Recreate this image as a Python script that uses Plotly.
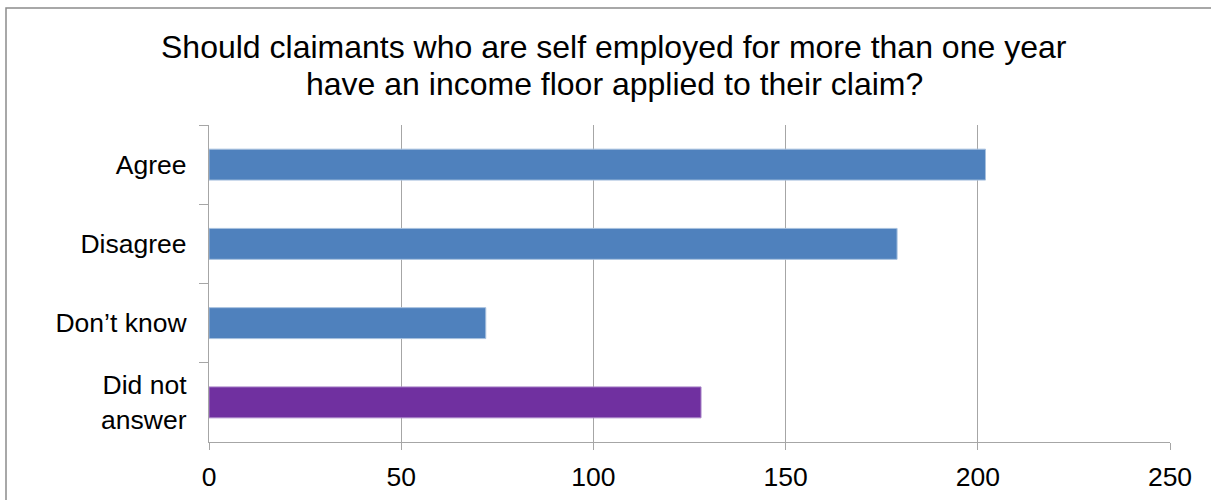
import plotly.graph_objects as go

# Survey responses
categories = ["Agree", "Disagree", "Don\u2019t know", "Did not<br>answer"]
responses = [202, 179, 72, 128]

# Title lines
title_lines = [
    "Should claimants who are self employed for more than one year",
    "have an income floor applied to their claim?",
]

# Bar fill per category (last one highlighted)
BLUE = "#4F81BD"
PURPLE = "#7030A0"
bar_colors = [BLUE, BLUE, BLUE, PURPLE]
edge_colors = ["#A7C0DE", "#A7C0DE", "#A7C0DE", "#A985C8"]

x_ticks = [0, 50, 100, 150, 200, 250]

FONT = "Liberation Sans, Arial, sans-serif"
GRID = "#A6A6A6"

fig = go.Figure(
    go.Bar(
        x=responses,
        y=categories,
        orientation="h",
        marker=dict(color=bar_colors, line=dict(color=edge_colors, width=1)),
        hoverinfo="x+y",
    )
)

# Title drawn as two centred lines
title_y = [47, 84]
annotations = [
    dict(
        text=line,
        xref="paper",
        yref="paper",
        x=(614 - 209) / 961,
        y=(442 - yc) / 317,
        xanchor="center",
        yanchor="middle",
        showarrow=False,
        font=dict(family=FONT, size=32, color="black"),
    )
    for line, yc in zip(title_lines, title_y)
]

fig.update_layout(
    width=1211,
    height=500,
    margin=dict(l=209, r=41, t=125, b=58, autoexpand=False),
    paper_bgcolor="white",
    plot_bgcolor="white",
    bargap=0.61,
    showlegend=False,
    font=dict(family=FONT, color="black"),
    annotations=annotations,
    xaxis=dict(
        range=[0, 250],
        tickvals=x_ticks,
        ticktext=[str(v) for v in x_ticks],
        automargin=False,
        showgrid=True,
        gridcolor=GRID,
        gridwidth=1.3,
        zeroline=False,
        showline=True,
        linecolor=GRID,
        linewidth=1.3,
        ticks="outside",
        ticklen=7,
        tickcolor=GRID,
        ticklabelstandoff=4,
        tickfont=dict(family=FONT, size=26.5, color="black"),
        fixedrange=True,
    ),
    yaxis=dict(
        autorange="reversed",
        tickson="boundaries",
        automargin=False,
        showgrid=False,
        showline=True,
        linecolor=GRID,
        linewidth=1.3,
        ticks="outside",
        ticklen=9,
        tickcolor=GRID,
        ticklabelstandoff=16,
        tickfont=dict(family=FONT, size=26.5, color="black"),
        fixedrange=True,
    ),
    shapes=[
        # chart frame
        dict(
            type="rect",
            xref="paper",
            yref="paper",
            x0=(6 - 209) / 961,
            x1=(1220 - 209) / 961,
            y0=(442 - 510) / 317,
            y1=(442 - 8) / 317,
            line=dict(color="#8C8C8C", width=1.5),
            fillcolor="rgba(0,0,0,0)",
            layer="below",
        )
    ],
)

fig.write_html("out.html")
